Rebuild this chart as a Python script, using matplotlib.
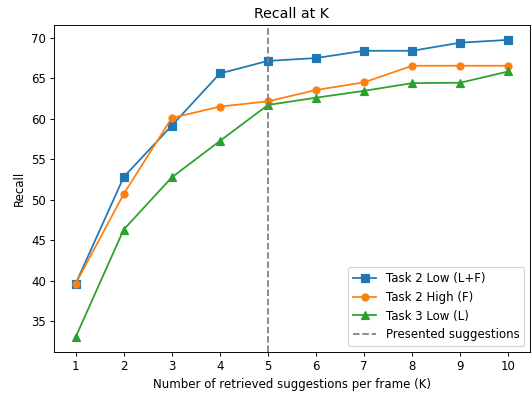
import matplotlib
matplotlib.use("Agg")
import matplotlib.pyplot as plt

k = [1, 2, 3, 4, 5, 6, 7, 8, 9, 10]
task2_low = [39.6, 52.8, 59.15, 65.6, 67.15, 67.5, 68.4, 68.4, 69.4, 69.75]
task2_high = [39.6, 50.7, 60.1, 61.5, 62.15, 63.55, 64.5, 66.55, 66.55, 66.55]
task3_low = [33.0, 46.3, 52.75, 57.25, 61.7, 62.6, 63.45, 64.4, 64.45, 65.85]
presented_k = 5

DPI = 84.5
fig = plt.figure(figsize=(532 / DPI, 394 / DPI), dpi=DPI)
ax = fig.add_subplot(111)
fig.subplots_adjust(left=54 / 532, right=530 / 532, top=1 - 25 / 394, bottom=1 - 352 / 394)

ax.plot(k, task2_low, marker='s', label='Task 2 Low (L+F)')
ax.plot(k, task2_high, marker='o', label='Task 2 High (F)')
ax.plot(k, task3_low, marker='^', label='Task 3 Low (L)')
ax.axvline(presented_k, color='gray', linestyle='--', label='Presented suggestions')

ax.set_xticks(k)
ax.set_title('Recall at K')
ax.set_xlabel('Number of retrieved suggestions per frame (K)')
ax.set_ylabel('Recall')
ax.legend(loc='lower right')

fig.savefig('out.png', dpi=DPI)
